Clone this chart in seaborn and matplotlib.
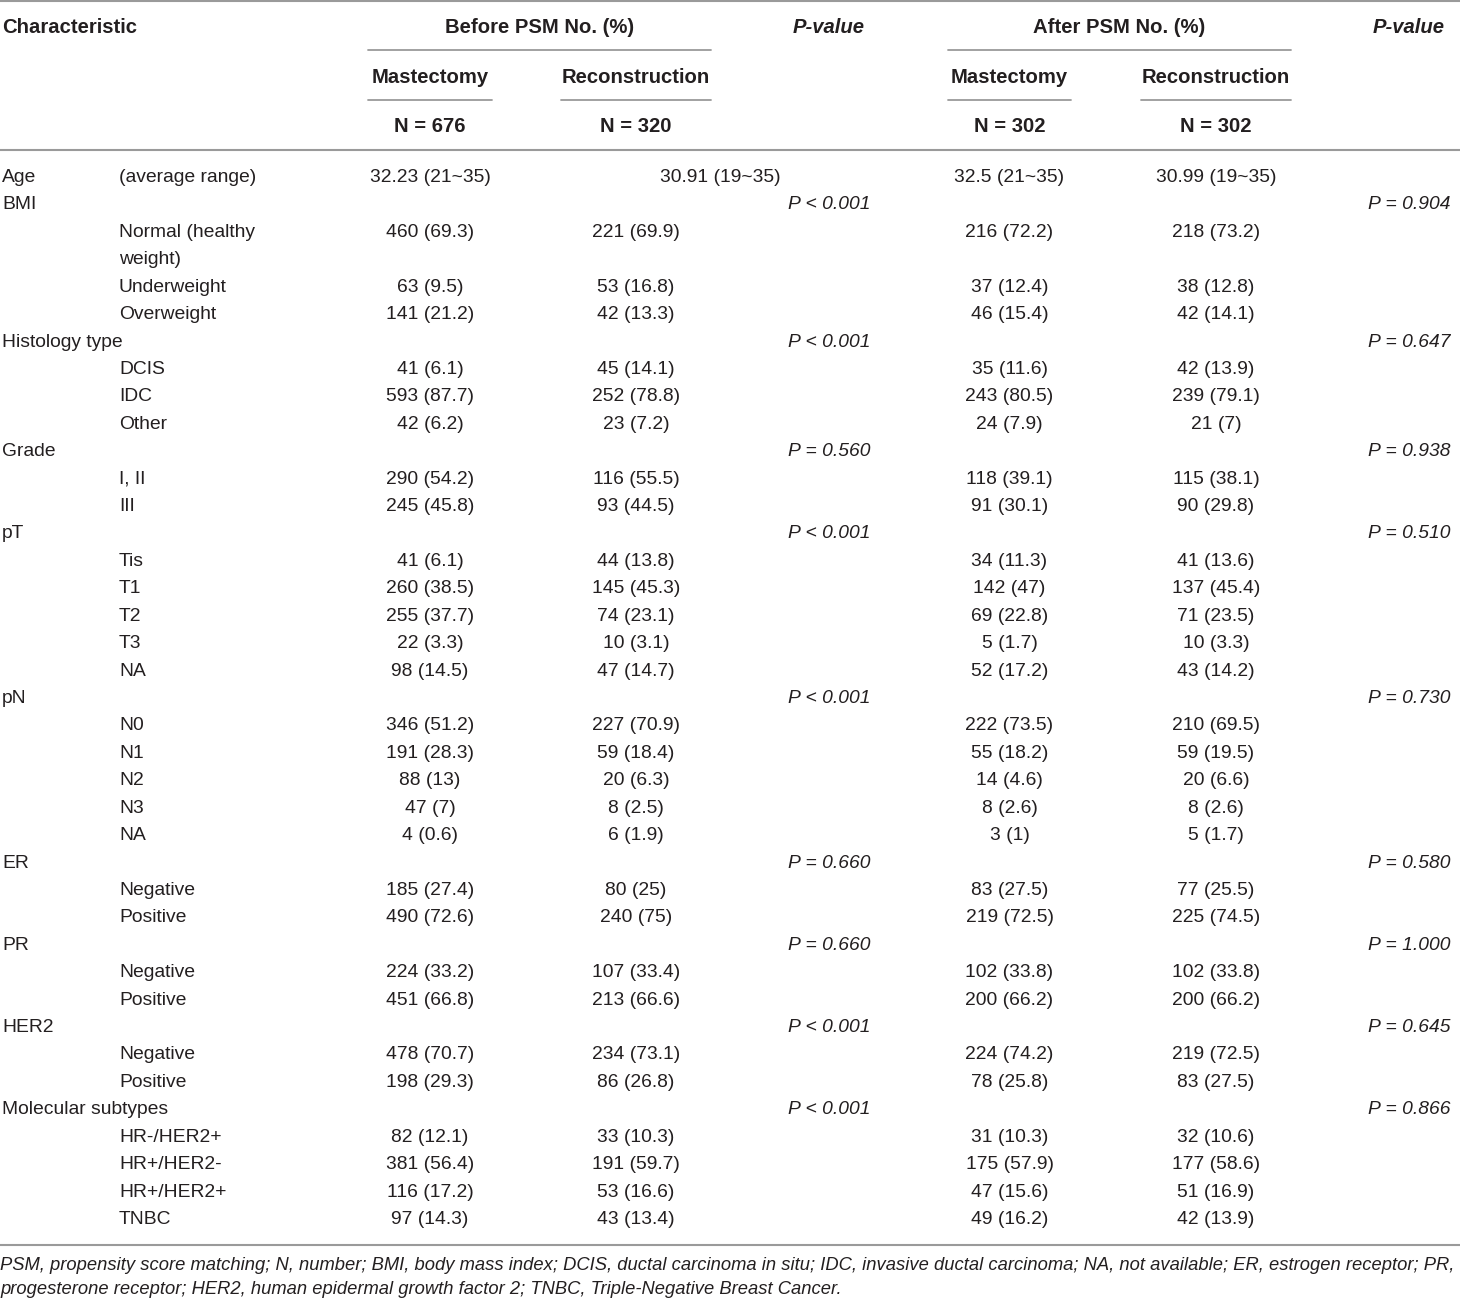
import matplotlib
matplotlib.use("Agg")
import matplotlib.pyplot as plt
import seaborn as sns

sns.set_theme(style="white")
plt.rcParams['font.family'] = ['Liberation Sans', 'DejaVu Sans']

characteristic = ["Age", "BMI", "", "", "", "Histology type", "", "", "", "Grade", "", "",
                  "pT", "", "", "", "", "", "pN", "", "", "", "", "",
                  "ER", "", "", "PR", "", "", "HER2", "", "", "Molecular subtypes", "", "", "", ""]
subgroup = ["(average range)", "", "Normal (healthy\nweight)", "Underweight", "Overweight",
            "", "DCIS", "IDC", "Other", "", "I, II", "III",
            "", "Tis", "T1", "T2", "T3", "NA", "", "N0", "N1", "N2", "N3", "NA",
            "", "Negative", "Positive", "", "Negative", "Positive", "", "Negative", "Positive",
            "", "HR-/HER2+", "HR+/HER2-", "HR+/HER2+", "TNBC"]
before_mastectomy = ["32.23 (21~35)", "", "460 (69.3)", "63 (9.5)", "141 (21.2)",
                     "", "41 (6.1)", "593 (87.7)", "42 (6.2)", "", "290 (54.2)", "245 (45.8)",
                     "", "41 (6.1)", "260 (38.5)", "255 (37.7)", "22 (3.3)", "98 (14.5)",
                     "", "346 (51.2)", "191 (28.3)", "88 (13)", "47 (7)", "4 (0.6)",
                     "", "185 (27.4)", "490 (72.6)", "", "224 (33.2)", "451 (66.8)",
                     "", "478 (70.7)", "198 (29.3)", "", "82 (12.1)", "381 (56.4)", "116 (17.2)", "97 (14.3)"]
before_reconstruction = ["30.91 (19~35)", "", "221 (69.9)", "53 (16.8)", "42 (13.3)",
                         "", "45 (14.1)", "252 (78.8)", "23 (7.2)", "", "116 (55.5)", "93 (44.5)",
                         "", "44 (13.8)", "145 (45.3)", "74 (23.1)", "10 (3.1)", "47 (14.7)",
                         "", "227 (70.9)", "59 (18.4)", "20 (6.3)", "8 (2.5)", "6 (1.9)",
                         "", "80 (25)", "240 (75)", "", "107 (33.4)", "213 (66.6)",
                         "", "234 (73.1)", "86 (26.8)", "", "33 (10.3)", "191 (59.7)", "53 (16.6)", "43 (13.4)"]
p_before = ["", "P < 0.001", "", "", "", "P < 0.001", "", "", "", "P = 0.560", "", "",
            "P < 0.001", "", "", "", "", "", "P < 0.001", "", "", "", "", "",
            "P = 0.660", "", "", "P = 0.660", "", "", "P < 0.001", "", "", "P < 0.001", "", "", "", ""]
after_mastectomy = ["32.5 (21~35)", "", "216 (72.2)", "37 (12.4)", "46 (15.4)",
                    "", "35 (11.6)", "243 (80.5)", "24 (7.9)", "", "118 (39.1)", "91 (30.1)",
                    "", "34 (11.3)", "142 (47)", "69 (22.8)", "5 (1.7)", "52 (17.2)",
                    "", "222 (73.5)", "55 (18.2)", "14 (4.6)", "8 (2.6)", "3 (1)",
                    "", "83 (27.5)", "219 (72.5)", "", "102 (33.8)", "200 (66.2)",
                    "", "224 (74.2)", "78 (25.8)", "", "31 (10.3)", "175 (57.9)", "47 (15.6)", "49 (16.2)"]
after_reconstruction = ["30.99 (19~35)", "", "218 (73.2)", "38 (12.8)", "42 (14.1)",
                        "", "42 (13.9)", "239 (79.1)", "21 (7)", "", "115 (38.1)", "90 (29.8)",
                        "", "41 (13.6)", "137 (45.4)", "71 (23.5)", "10 (3.3)", "43 (14.2)",
                        "", "210 (69.5)", "59 (19.5)", "20 (6.6)", "8 (2.6)", "5 (1.7)",
                        "", "77 (25.5)", "225 (74.5)", "", "102 (33.8)", "200 (66.2)",
                        "", "219 (72.5)", "83 (27.5)", "", "32 (10.6)", "177 (58.6)", "51 (16.9)", "42 (13.9)"]
p_after = ["", "P = 0.904", "", "", "", "P = 0.647", "", "", "", "P = 0.938", "", "",
           "P = 0.510", "", "", "", "", "", "P = 0.730", "", "", "", "", "",
           "P = 0.580", "", "", "P = 1.000", "", "", "P = 0.645", "", "", "P = 0.866", "", "", "", ""]

group_headers = ["Before PSM No. (%)", "After PSM No. (%)"]
arm_headers = ["Mastectomy", "Reconstruction", "Mastectomy", "Reconstruction"]
arm_n = ["N = 676", "N = 320", "N = 302", "N = 302"]
footnote_lines = [
    "PSM, propensity score matching; N, number; BMI, body mass index; DCIS, ductal carcinoma in situ; "
    "IDC, invasive ductal carcinoma; NA, not available; ER, estrogen receptor; PR,",
    "progesterone receptor; HER2, human epidermal growth factor 2; TNBC, Triple-Negative Breast Cancer.",
]

W, H = 1460, 1299
fig = plt.figure(figsize=(W / 100, H / 100), dpi=100)
ax = fig.add_axes([0, 0, 1, 1])
ax.set_xlim(0, W)
ax.set_ylim(H, 0)
ax.axis("off")

ink = "#231f20"
rule = "#9a9a9a"
fs = 13.9
fs_head = 14.6

# column layout
x_char, x_sub = 2, 119
arm_spans = [(368, 492), (561, 711), (948, 1071), (1141, 1291)]
arm_x = [(a + b) / 2 for a, b in arm_spans]
group_spans = [(368, 711), (948, 1291)]
p_x = [829, 1409]

# header
ax.text(x_char, 27, "Characteristic", fontsize=fs_head, fontweight="bold", color=ink, va="center", ha="left")
for (a, b), lab in zip(group_spans, group_headers):
    ax.text((a + b) / 2, 27, lab, fontsize=fs_head, fontweight="bold", color=ink, va="center", ha="center")
    ax.plot([a, b], [50, 50], color=rule, lw=1.3)
for px in p_x:
    ax.text(px, 27, "P-value", fontsize=fs_head, fontweight="bold", style="italic", color=ink,
            va="center", ha="center")
for (a, b), lab, n in zip(arm_spans, arm_headers, arm_n):
    ax.text((a + b) / 2, 77, lab, fontsize=fs_head, fontweight="bold", color=ink, va="center", ha="center")
    ax.plot([a, b], [100, 100], color=rule, lw=1.3)
    ax.text((a + b) / 2, 126, n, fontsize=fs_head, fontweight="bold", color=ink, va="center", ha="center")

ax.plot([0, W], [1, 1], color=rule, lw=1.5)
ax.plot([0, W], [150, 150], color=rule, lw=1.5)
ax.plot([0, W], [1245, 1245], color=rule, lw=1.5)

# body
y0, step = 177.5, 27.42
line = 0
value_cols = [before_mastectomy, before_reconstruction, after_mastectomy, after_reconstruction]
for i in range(len(characteristic)):
    y = y0 + line * step
    ax.text(x_char, y, characteristic[i], fontsize=fs, color=ink, va="center", ha="left")
    sub_lines = subgroup[i].split("\n")
    for k, s in enumerate(sub_lines):
        ax.text(x_sub, y + k * step, s, fontsize=fs, color=ink, va="center", ha="left")
    for j, col in enumerate(value_cols):
        cx = arm_x[j]
        if i == 0 and j == 1:
            cx = 720
        ax.text(cx, y, col[i], fontsize=fs, color=ink, va="center", ha="center")
    ax.text(p_x[0], y, p_before[i], fontsize=fs, style="italic", color=ink, va="center", ha="center")
    ax.text(p_x[1], y, p_after[i], fontsize=fs, style="italic", color=ink, va="center", ha="center")
    line += len(sub_lines)

for k, t in enumerate(footnote_lines):
    ax.text(0, 1265 + k * 25, t, fontsize=13.25, style="italic", color=ink, va="center", ha="left")

fig.savefig("out.png", dpi=100)
